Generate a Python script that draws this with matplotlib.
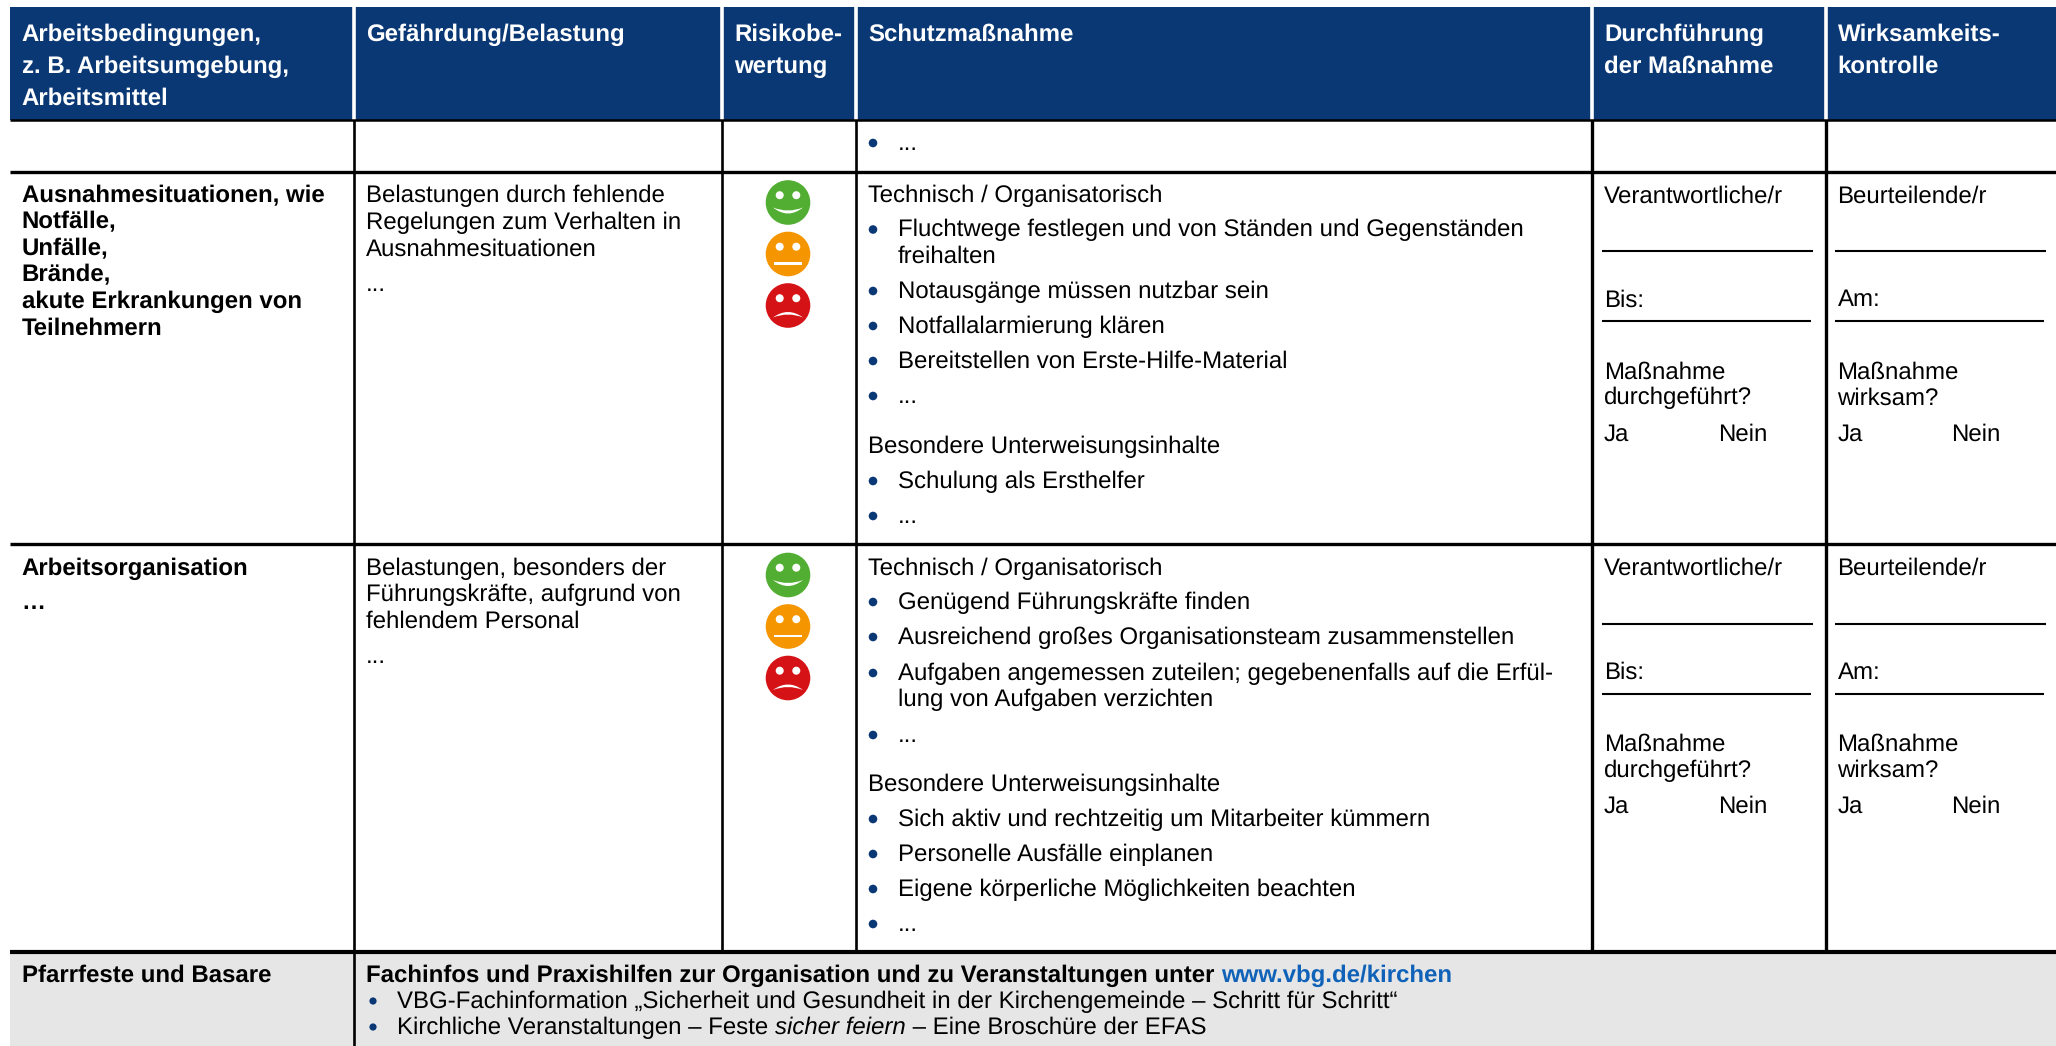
#!/usr/bin/env python
"""Gefaehrdungsbeurteilung table page, drawn in pixel coordinates."""
import matplotlib; matplotlib.use("Agg")
import matplotlib.pyplot as plt
from matplotlib.patches import Circle, PathPatch, Rectangle
from matplotlib.path import Path

plt.rcParams.update({"font.family": ["Liberation Sans", "DejaVu Sans"], "font.size": 17,
                     "text.hinting": "none", "text.hinting_factor": 1})

W, H = 2056, 1046
FS = 17.3
NAVY = "#0A3875"
GREY = "#E6E6E6"
LINK = "#0F62B8"
FACES = ["#52AE32", "#F59500", "#D51317"]

# texts
HEAD_TXT = [["Arbeitsbedingungen,", "z. B. Arbeitsumgebung,", "Arbeitsmittel"],
            ["Gefährdung/Belastung"], ["Risikobe-", "wertung"], ["Schutzmaßnahme"],
            ["Durchführung", "der Maßnahme"], ["Wirksamkeits-", "kontrolle"]]
ROW1_LEFT = ["Ausnahmesituationen, wie", "Notfälle,", "Unfälle,", "Brände,",
             "akute Erkrankungen von", "Teilnehmern"]
ROW1_HAZ = ["Belastungen durch fehlende", "Regelungen zum Verhalten in", "Ausnahmesituationen", "..."]
ROW1_MEAS = [("Technisch / Organisatorisch", 0),
             ("Fluchtwege festlegen und von Ständen und Gegenständen", 1), ("freihalten", 2),
             ("Notausgänge müssen nutzbar sein", 1), ("Notfallalarmierung klären", 1),
             ("Bereitstellen von Erste-Hilfe-Material", 1), ("...", 1),
             ("Besondere Unterweisungsinhalte", 0), ("Schulung als Ersthelfer", 1), ("...", 1)]
ROW2_LEFT = ["Arbeitsorganisation", "…"]
ROW2_HAZ = ["Belastungen, besonders der", "Führungskräfte, aufgrund von", "fehlendem Personal", "..."]
ROW2_MEAS = [("Technisch / Organisatorisch", 0), ("Genügend Führungskräfte finden", 1),
             ("Ausreichend großes Organisationsteam zusammenstellen", 1),
             ("Aufgaben angemessen zuteilen; gegebenenfalls auf die Erfül-", 1),
             ("lung von Aufgaben verzichten", 2), ("...", 1),
             ("Besondere Unterweisungsinhalte", 0),
             ("Sich aktiv und rechtzeitig um Mitarbeiter kümmern", 1),
             ("Personelle Ausfälle einplanen", 1), ("Eigene körperliche Möglichkeiten beachten", 1),
             ("...", 1)]
DO_TXT = ["Verantwortliche/r", "Bis:", "Maßnahme", "durchgeführt?", "Ja"]
CHECK_TXT = ["Beurteilende/r", "Am:", "Maßnahme", "wirksam?", "Ja"]
NEIN = "Nein"
FOOT_LEFT = "Pfarrfeste und Basare"
FOOT_HEAD = [("Fachinfos und Praxishilfen zur Organisation und zu Veranstaltungen unter ", "k"),
             ("www.vbg.de/kirchen", "l")]
FOOT_1 = "VBG-Fachinformation „Sicherheit und Gesundheit in der Kirchengemeinde – Schritt für Schritt“"
FOOT_2 = [("Kirchliche Veranstaltungen – Feste ", "normal"), ("sicher feiern", "italic"),
          (" – Eine Broschüre der EFAS", "normal")]

# layout, pixels of the page
COL_X = [354, 722, 856, 1592, 1826]
HEAD_TX = [21.5, 366, 734, 868, 1604, 1837.5]
HEAD_BASE = [41, 73, 105]
ROW_Y = [120, 172, 544, 952]
TOP_BULLET_Y = 150
R1_BASE_L = [202, 228.5, 255, 281.5, 308, 334.5]
R1_BASE_H = [202.5, 229, 255.5, 291]
R1_BASE_M = [202.5, 236.5, 263, 298, 333, 368, 403, 453, 488, 523]
R2_BASE_L = [575, 609]
R2_BASE_H = [575, 601.5, 628, 663]
R2_BASE_M = [575, 609, 644, 680, 706, 742, 791, 826, 861, 896, 931]
DO_BASE = [202.5, 306.5, 378.5, 404.5, 440.5]
FACE_Y = [202.5, 254, 305.5]
ROW_OFFSET = 372.5
NEIN_DX = 114
SIGN_DY = [251, 321]


def put(ax, x, y, s, **kw):
    return ax.text(x, y, s, va="baseline", ha="left", fontsize=FS, color=kw.pop("color", "black"), **kw)


def runs(ax, fig, x, y, parts):
    r = fig.canvas.get_renderer()
    for s, kw in parts:
        put(ax, x, y, s, **kw)
        # trailing blanks are not measured, so measure with a stop mark
        probe = put(ax, x, y, s + "|", **kw)
        bar = put(ax, x, y, "|", **kw)
        x += probe.get_window_extent(r).width - bar.get_window_extent(r).width
        probe.remove(); bar.remove()


def bullet(ax, y, x=873, r=4.3):
    ax.add_patch(Circle((x, y), r, color=NAVY, lw=0, zorder=3))


def face(ax, y, col, mood):
    cx = 788
    ax.add_patch(Circle((cx, y), 22.3, color=col, lw=0, zorder=3))
    for dx in (-8.3, 8.3):
        ax.add_patch(Circle((cx + dx, y - 7.3), 4, color="white", lw=0, zorder=4))
    if mood == 0:
        p = [(cx - 15, y + 5), (cx, y + 11), (cx + 15, y + 5), (cx, y + 17), (cx - 15, y + 5)]
    else:
        p = [(cx - 15, y + 12), (cx, y + 1), (cx + 15, y + 12), (cx, y + 6), (cx - 15, y + 12)]
    if mood == 1:
        ax.add_patch(Rectangle((cx - 14, y + 8), 28, 2.6, color="white", lw=0, zorder=4))
    else:
        codes = [Path.MOVETO, Path.CURVE3, Path.CURVE3, Path.CURVE3, Path.CURVE3]
        ax.add_patch(PathPatch(Path(p, codes), fc="white", ec="none", zorder=4))


def measures(ax, items, bases):
    for (s, kind), y in zip(items, bases):
        if kind == 0:
            put(ax, 868, y, s)
        else:
            put(ax, 898, y, s)
            if kind == 1:
                bullet(ax, y - 7)


def main():
    fig = plt.figure(figsize=(W / 100, H / 100), dpi=100)
    ax = fig.add_axes([0, 0, 1, 1])
    ax.set_xlim(0, W); ax.set_ylim(H, 0); ax.axis("off")

    # header band and footer band
    ax.add_patch(Rectangle((10, 7), W - 10, ROW_Y[0] - 7, color=NAVY, lw=0, zorder=1))
    ax.add_patch(Rectangle((10, ROW_Y[3]), W - 10, H - ROW_Y[3], color=GREY, lw=0, zorder=1))
    for x in COL_X:
        ax.plot([x, x], [7, ROW_Y[0]], color="white", lw=2.6, solid_capstyle="butt", zorder=2)
    for i, x in enumerate(COL_X):
        lw = 2.4 if i >= 3 else 1.9
        bottom = H if i == 0 else ROW_Y[3]
        ax.plot([x, x], [ROW_Y[0], bottom], color="black", lw=lw, solid_capstyle="butt", zorder=2)
    for y, lw in zip(ROW_Y, [1.8, 2.4, 2.4, 3.0]):
        ax.plot([10, W], [y, y], color="black", lw=lw, solid_capstyle="butt", zorder=2)

    for x, lines in zip(HEAD_TX, HEAD_TXT):
        for s, y in zip(lines, HEAD_BASE):
            put(ax, x, y, s, color="white", fontweight="bold")

    bullet(ax, TOP_BULLET_Y - 7)
    put(ax, 898, TOP_BULLET_Y, "...")

    for s, y in zip(ROW1_LEFT, R1_BASE_L):
        put(ax, 21.5, y, s, fontweight="bold")
    for s, y in zip(ROW2_LEFT, R2_BASE_L):
        put(ax, 21.5, y, s, fontweight="bold")
    for s, y in zip(ROW1_HAZ, R1_BASE_H):
        put(ax, 366, y, s)
    for s, y in zip(ROW2_HAZ, R2_BASE_H):
        put(ax, 366, y, s)
    measures(ax, ROW1_MEAS, R1_BASE_M)
    measures(ax, ROW2_MEAS, R2_BASE_M)

    for off in (0, ROW_OFFSET):
        for mood, (fy, col) in enumerate(zip(FACE_Y, FACES)):
            face(ax, fy + off, col, mood)
        for tx, x0, x1, lines in ((1604, 1602, (1813, 1811), DO_TXT), (1837.5, 1835, (2046, 2044), CHECK_TXT)):
            for s, y in zip(lines, DO_BASE):
                put(ax, tx, y + off, s)
            put(ax, tx + NEIN_DX, DO_BASE[-1] + off, NEIN)
            for y, xe in zip(SIGN_DY, x1):
                ax.plot([x0, xe], [y + off, y + off], color="black", lw=1.5, solid_capstyle="butt", zorder=2)

    put(ax, 21.5, 982, FOOT_LEFT, fontweight="bold")
    runs(ax, fig, 366, 982, [(s, {"fontweight": "bold", "color": LINK if k == "l" else "black"})
                             for s, k in FOOT_HEAD])
    bullet(ax, 1001, x=373, r=3.6)
    put(ax, 397, 1008, FOOT_1)
    bullet(ax, 1027, x=373, r=3.6)
    runs(ax, fig, 397, 1034, [(s, {"fontstyle": k}) for s, k in FOOT_2])

    fig.savefig("out.png", dpi=100, facecolor="white")


if __name__ == "__main__":
    main()
